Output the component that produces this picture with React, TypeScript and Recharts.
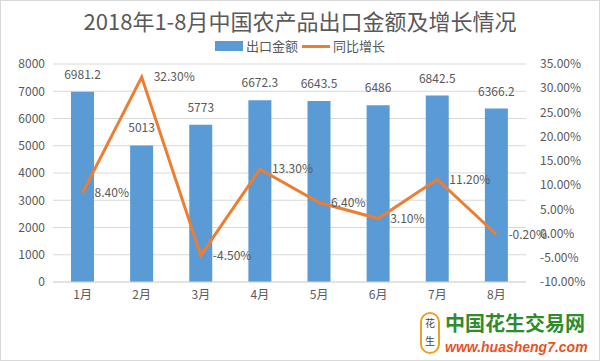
import { Bar, CartesianGrid, ComposedChart, LabelList, Line, XAxis, YAxis } from "recharts";

const months = ["1月", "2月", "3月", "4月", "5月", "6月", "7月", "8月"];
const exportValues = [6981.2, 5013, 5773, 6672.3, 6643.5, 6486, 6842.5, 6366.2];
const growthRates = [8.4, 32.3, -4.5, 13.3, 6.4, 3.1, 11.2, -0.2];
const leftTicks = [0, 1000, 2000, 3000, 4000, 5000, 6000, 7000, 8000];
const rightTicks = [-10, -5, 0, 5, 10, 15, 20, 25, 30, 35];

const font = "'Noto Sans CJK SC', 'Noto Sans', sans-serif";
const textColor = "#595959";

const data = months.map((m, i) => ({
  month: m,
  amount: exportValues[i],
  growth: growthRates[i],
}));

const pct = (v: number) => `${v.toFixed(2)}%`;

export default function App() {
  return (
    <div
      style={{
        position: "fixed",
        top: 0,
        left: 0,
        width: 600,
        height: 361,
        background: "#fff",
        fontFamily: font,
        boxSizing: "border-box",
        border: "1px solid #d9d9d9",
      }}
    >
      <div
        style={{
          position: "absolute",
          top: 3,
          left: 0,
          width: 598,
          textAlign: "center",
          fontSize: 22,
          color: textColor,
        }}
      >
        2018年1-8月中国农产品出口金额及增长情况
      </div>
      {/* legend */}
      <div
        style={{
          position: "absolute",
          top: 37,
          left: 0,
          width: 598,
          display: "flex",
          justifyContent: "center",
          alignItems: "center",
          fontSize: 13,
          color: textColor,
          lineHeight: "16px",
        }}
      >
        <span style={{ display: "inline-block", width: 28, height: 10, background: "#5B9BD5", marginRight: 3 }} />
        <span>出口金额</span>
        <span style={{ display: "inline-block", width: 28, height: 3, background: "#ED7D31", margin: "0 3px 0 4px" }} />
        <span>同比增长</span>
      </div>
      <ComposedChart
        width={598}
        height={359}
        data={data}
        margin={{ top: 63, right: 0, left: 0, bottom: 48 }}
        style={{ position: "absolute", top: 0, left: 0 }}
      >
        <CartesianGrid yAxisId="left" vertical={false} stroke="#d9d9d9" />
        <XAxis
          dataKey="month"
          axisLine={{ stroke: "#d9d9d9" }}
          tickLine={false}
          tick={{ fill: textColor, fontSize: 12, fontFamily: font }}
          height={30}
        />
        <YAxis
          yAxisId="left"
          domain={[0, 8000]}
          ticks={leftTicks}
          interval={0}
          axisLine={false}
          tickLine={false}
          width={52}
          tick={{ fill: textColor, fontSize: 12, fontFamily: font }}
        />
        <YAxis
          yAxisId="right"
          orientation="right"
          domain={[-10, 35]}
          ticks={rightTicks}
          interval={0}
          tickFormatter={pct}
          axisLine={false}
          tickLine={false}
          width={73}
          tick={{ fill: textColor, fontSize: 12, fontFamily: font, textAnchor: "start", dx: 6 }}
        />
        <Bar
          yAxisId="left"
          dataKey="amount"
          name="出口金额"
          fill="#5B9BD5"
          barSize={23}
          isAnimationActive={false}
        >
          <LabelList
            dataKey="amount"
            position="top"
            offset={13}
            style={{ fill: textColor, fontSize: 12, fontFamily: font }}
          />
        </Bar>
        <Line
          yAxisId="right"
          dataKey="growth"
          name="同比增长"
          stroke="#ED7D31"
          strokeWidth={3}
          dot={false}
          isAnimationActive={false}
        >
          <LabelList
            dataKey="growth"
            position="right"
            offset={12}
            formatter={(v: number) => pct(v)}
            style={{ fill: textColor, fontSize: 12, fontFamily: font }}
          />
        </Line>
      </ComposedChart>
      {/* watermark */}
      <div
        style={{
          position: "absolute",
          left: 419,
          top: 311,
          width: 20,
          height: 42,
          borderRadius: 10,
          border: "2px solid #f0a020",
          boxSizing: "border-box",
          color: "#444",
          fontSize: 10,
          lineHeight: "18px",
          textAlign: "center",
        }}
      >
        花<br />生
      </div>
      <div style={{ position: "absolute", left: 444, top: 312, lineHeight: 1 }}>
        <div style={{ color: "#2e8b2e", fontSize: 20, fontWeight: "bold", height: 22 }}>
          中国花生交易网
        </div>
        <div
          style={{
            color: "#e8531f",
            fontSize: 14,
            fontWeight: "bold",
            fontStyle: "italic",
            fontFamily: "'Liberation Sans', sans-serif",
            marginTop: 5,
          }}
        >
          www.huasheng7.com
        </div>
      </div>
    </div>
  );
}
